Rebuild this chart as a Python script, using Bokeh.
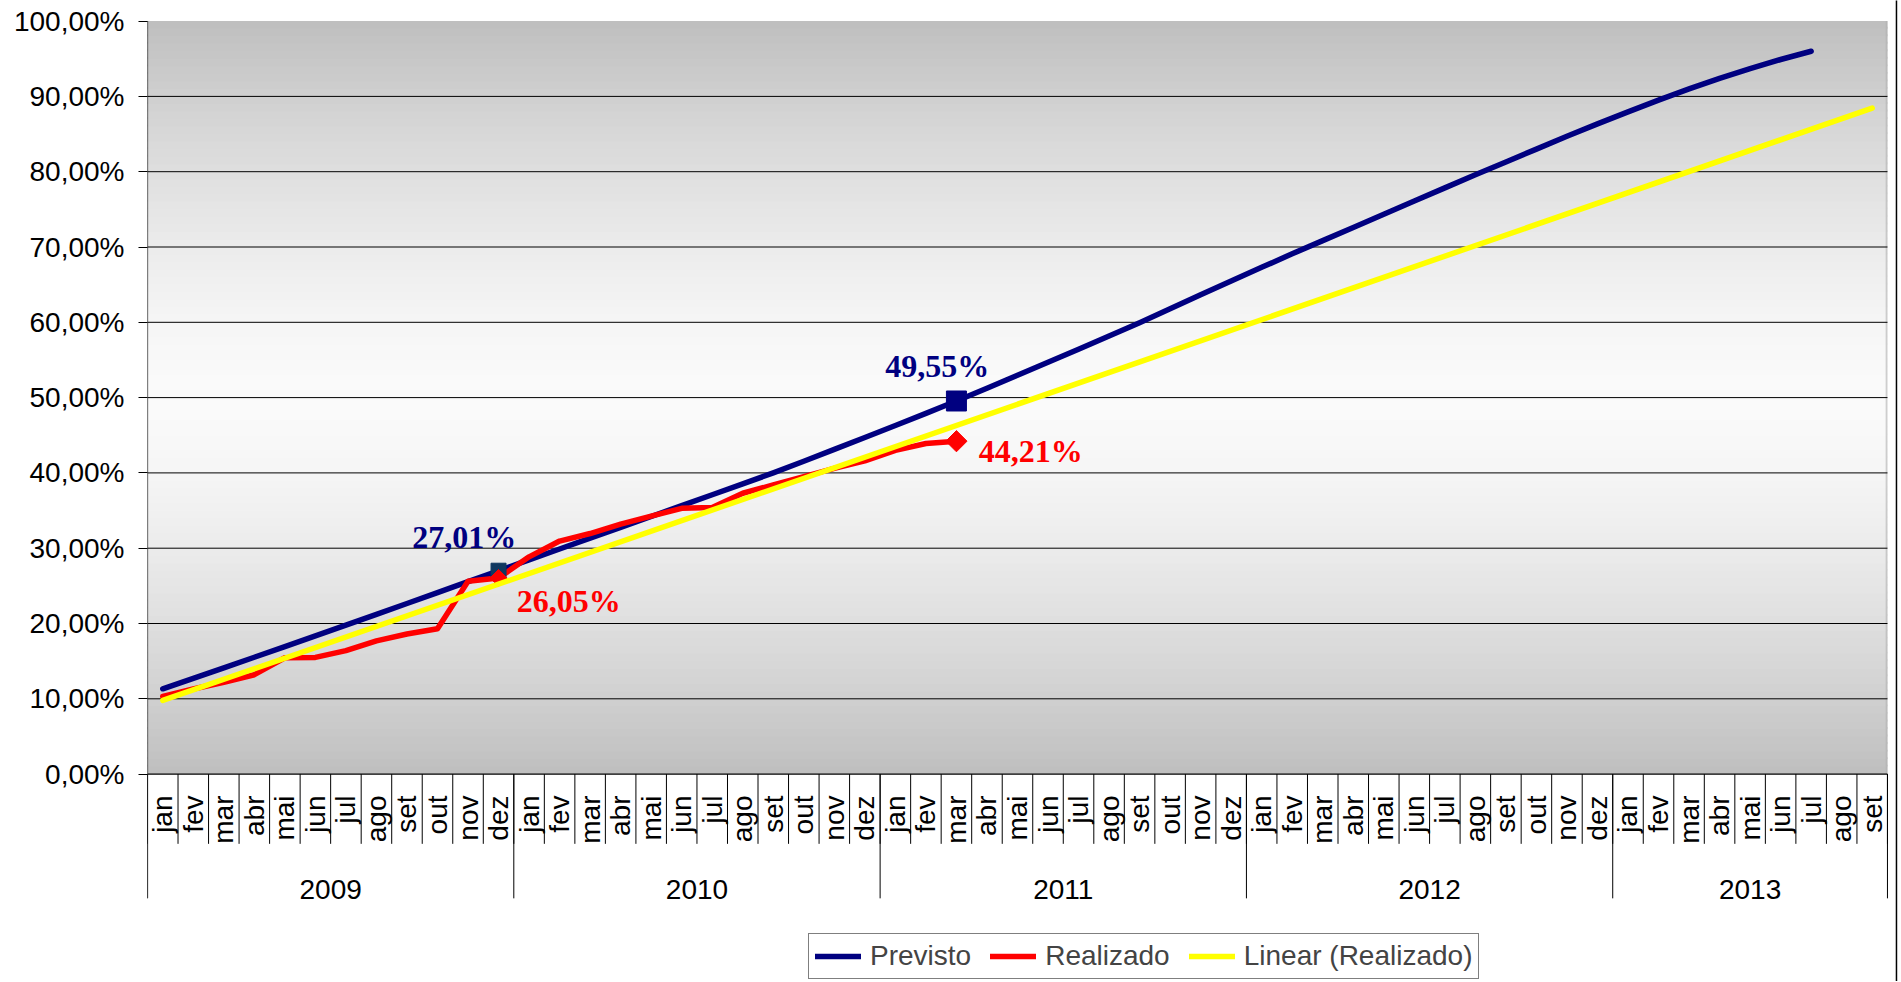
import numpy as np
from bokeh.plotting import figure
from bokeh.models import Range1d, FixedTicker, Legend, LegendItem
from bokeh.core.properties import value
from bokeh.embed import file_html
from bokeh.resources import INLINE

# ---------------- data ----------------
years = ["2009", "2010", "2011", "2012", "2013"]
months = ["jan", "fev", "mar", "abr", "mai", "jun", "jul", "ago", "set", "out", "nov", "dez"]
months_per_year = [12, 12, 12, 12, 9]

# Previsto (jan 2009 .. jul 2013), %
previsto = [
    11.33, 12.72, 14.12, 15.52, 16.93, 18.35, 19.78, 21.22, 22.66, 24.11, 25.56, 27.01,
    28.45, 29.89, 31.33, 32.77, 34.21, 35.65, 37.10, 38.55, 40.00, 41.55, 43.12, 44.70,
    46.29, 47.90, 49.55, 51.25, 52.97, 54.70, 56.43, 58.18, 59.95, 61.80, 63.65, 65.50,
    67.30, 69.10, 70.85, 72.60, 74.35, 76.10, 77.85, 79.60, 81.30, 83.00, 84.70, 86.35,
    87.95, 89.50, 91.00, 92.40, 93.70, 94.90, 96.00,
]
# Realizado (jan 2009 .. mar 2011), %
realizado = [
    10.30, 11.30, 12.20, 13.20, 15.45, 15.50, 16.40, 17.70, 18.60, 19.30, 25.60, 26.05,
    28.85, 30.95, 31.95, 33.20, 34.25, 35.30, 35.40, 37.30, 38.40, 39.50, 40.60, 41.60,
    43.00, 43.90, 44.21,
]
# Linear (Realizado) trend line: value at first and last category
linear_start = 9.78
linear_end = 88.45

highlight_months = [("2009", "dez"), ("2011", "mar")]

y_ticks = [0, 10, 20, 30, 40, 50, 60, 70, 80, 90, 100]
y_tick_labels = ["0,00%", "10,00%", "20,00%", "30,00%", "40,00%", "50,00%",
                 "60,00%", "70,00%", "80,00%", "90,00%", "100,00%"]

# ---------------- derived ----------------
categories = [(y, m) for y, n in zip(years, months_per_year) for m in months[:n]]
n_cat = len(categories)
xc = [i + 0.5 for i in range(n_cat)]

def fmt(v):
    return ("%.2f" % v).replace(".", ",") + "%"

NAVY = "#000080"
RED = "#FF0000"
YELLOW = "#FFFF00"
FONT = "Liberation Sans"
LW = 5.5

W, H = 1900, 981
LEFT = 147
p = figure(width=W, height=H,
           x_range=Range1d(0, 57.427), y_range=Range1d(-27.543, 102.736),
           x_axis_type=None, output_backend="svg", toolbar_location=None,
           min_border=0, min_border_left=LEFT,
           background_fill_color="white", border_fill_color="white",
           outline_line_color=None)
p.xgrid.visible = False
p.ygrid.visible = False

# gradient plot-area background
bands = np.arange(100)
mid = bands + 0.5
t = np.abs(mid - 50.0) / 50.0
light = 0xBF + (0xFB - 0xBF) * (1 - t ** 1.5)
band_colors = ["#%02x%02x%02x" % (int(l), int(l), int(l)) for l in light]
p.quad(left=0, right=n_cat, bottom=bands, top=np.minimum(bands + 1.25, 100),
       fill_color=band_colors, line_color=None)
# faint shadow at right edge of plot area
p.quad(left=[n_cat - 0.06], right=[n_cat], bottom=[0], top=[100],
       fill_color="#b0b0b0", line_color=None, fill_alpha=0.6)

# horizontal gridlines
grid_y = [v for v in y_ticks if 0 < v < 100]
p.segment(x0=[0] * len(grid_y), x1=[n_cat] * len(grid_y), y0=grid_y, y1=grid_y,
          line_color="black", line_width=1)

# category axis line
p.segment(x0=[0], x1=[n_cat], y0=[0], y1=[0], line_color="black", line_width=1.2)

# category separators
bounds = list(range(n_cat + 1))
p.segment(x0=bounds, x1=bounds, y0=[0] * len(bounds), y1=[-9.26] * len(bounds),
          line_color="black", line_width=1)
year_bounds = [0]
for nm in months_per_year:
    year_bounds.append(year_bounds[-1] + nm)
p.segment(x0=year_bounds, x1=year_bounds, y0=[0] * len(year_bounds),
          y1=[-16.5] * len(year_bounds), line_color="black", line_width=1)
p.segment(x0=[0], x1=[0], y0=[-16.5], y1=[100], line_color="black", line_width=1.2)

# month labels
p.text(x=xc, y=[-2.84] * n_cat, text=[m for (_, m) in categories], angle=np.pi / 2,
       text_align="right", text_baseline="middle", text_font=value(FONT),
       text_font_size="28px", text_color="black")
# year labels
year_centers = [(year_bounds[k] + year_bounds[k + 1]) / 2 for k in range(len(years))]
p.text(x=year_centers, y=[-15.36] * len(years), text=years, text_align="center",
       text_baseline="alphabetic", text_font=value(FONT), text_font_size="28px",
       text_color="black")

# series
r_prev = p.line(xc[:len(previsto)], previsto, line_color=NAVY, line_width=LW,
                line_cap="round", line_join="round")
r_real = p.line(xc[:len(realizado)], realizado, line_color=RED, line_width=LW,
                line_cap="round", line_join="round")

# highlighted markers
hi_idx = [categories.index(c) for c in highlight_months]
p.scatter([xc[hi_idx[0]]], [previsto[hi_idx[0]]], marker="square", size=15,
          fill_color="#103860", line_color="#103860")
p.scatter([xc[hi_idx[1]]], [previsto[hi_idx[1]]], marker="square", size=20,
          fill_color=NAVY, line_color=NAVY)
p.scatter([xc[hi_idx[0]]], [realizado[hi_idx[0]]], marker="square", size=12,
          angle=np.pi / 4, fill_color=RED, line_color=RED)
p.scatter([xc[hi_idx[1]]], [realizado[hi_idx[1]]], marker="square", size=15,
          angle=np.pi / 4, fill_color=RED, line_color=RED)

r_lin = p.line([xc[0], xc[-1]], [linear_start, linear_end], line_color=YELLOW,
               line_width=LW, line_cap="round")

# data labels (offsets in data units from the highlighted point)
label_specs = [
    (previsto, hi_idx[0], -1.12, 4.45, "center", NAVY),
    (realizado, hi_idx[0], 2.30, -3.00, "center", RED),
    (previsto, hi_idx[1], -0.63, 4.71, "center", NAVY),
    (realizado, hi_idx[1], 0.73, -1.33, "left", RED),
]
for series, idx, dx, dy, align, col in label_specs:
    p.text(x=[xc[idx] + dx], y=[series[idx] + dy], text=[fmt(series[idx])],
           text_align=align, text_baseline="alphabetic",
           text_font=value("Liberation Serif"), text_font_style="bold",
           text_font_size="32px", text_color=col)

# right border of chart
p.segment(x0=[57.295], x1=[57.295], y0=[-40], y1=[120], line_color="black", line_width=1.5)

# y axis
yax = p.yaxis[0]
yax.ticker = FixedTicker(ticks=y_ticks, minor_ticks=[])
yax.major_label_overrides = {tk: lab for tk, lab in zip(y_ticks, y_tick_labels)}
yax.axis_line_color = None
yax.major_tick_line_color = "black"
yax.major_tick_out = 9
yax.major_tick_in = 0
yax.minor_tick_line_color = None
yax.major_label_standoff = 14
yax.major_label_text_font = FONT
yax.major_label_text_font_size = "28px"
yax.major_label_text_color = "black"

legend = Legend(items=[LegendItem(label="Previsto", renderers=[r_prev]),
                       LegendItem(label="Realizado", renderers=[r_real]),
                       LegendItem(label="Linear (Realizado)", renderers=[r_lin])],
                orientation="horizontal", location=(661, 2),
                label_text_font=FONT, label_text_font_size="28px",
                glyph_width=46, glyph_height=24, label_height=24, label_standoff=9,
                spacing=19, padding=6, margin=0,
                border_line_color="black", border_line_width=1,
                background_fill_color="white", background_fill_alpha=1.0)
p.add_layout(legend)

open("out.html", "w").write(file_html(p, INLINE))
